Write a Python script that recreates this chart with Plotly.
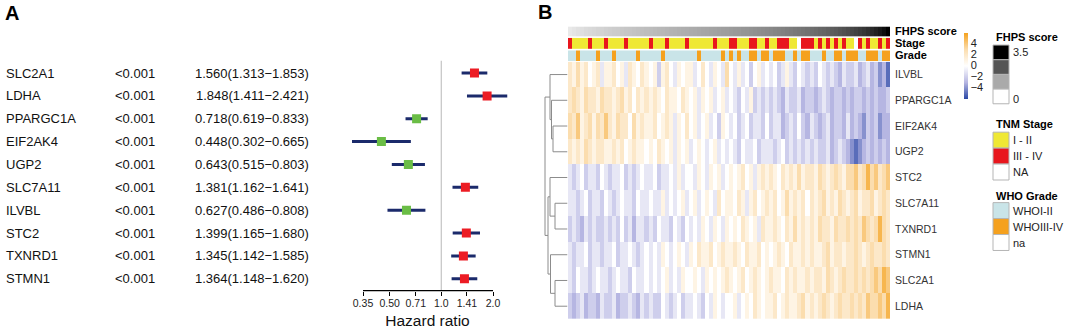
import math
import plotly.graph_objects as go

W, H = 1065, 329
FONT = "Arial, 'Liberation Sans', sans-serif"

# ---------------- Panel A data (forest plot) ----------------
FOREST_GENES = ["SLC2A1", "LDHA", "PPARGC1A", "EIF2AK4", "UGP2",
                "SLC7A11", "ILVBL", "STC2", "TXNRD1", "STMN1"]
PVALUES = ["<0.001"] * 10
HR = [1.560, 1.848, 0.718, 0.448, 0.643, 1.381, 0.627, 1.399, 1.345, 1.364]
HR_LOW = [1.313, 1.411, 0.619, 0.302, 0.515, 1.162, 0.486, 1.165, 1.142, 1.148]
HR_HIGH = [1.853, 2.421, 0.833, 0.665, 0.803, 1.641, 0.808, 1.680, 1.585, 1.620]
FOREST_TICKS = [0.35, 0.5, 0.71, 1.0, 1.41, 2.0]
FOREST_TICK_TEXT = ["0.35", "0.50", "0.71", "1.0", "1.41", "2.0"]

# ---------------- Panel B data (heatmap) ----------------
HEAT_GENES = ["ILVBL", "PPARGC1A", "EIF2AK4", "UGP2", "STC2",
              "SLC7A11", "TXNRD1", "STMN1", "SLC2A1", "LDHA"]

FHPS_SCORE = [0.30, 0.36, 0.41, 0.44, 0.49, 0.52, 0.55, 0.59, 0.61, 0.64,
              0.67, 0.70, 0.72, 0.75, 0.78, 0.80, 0.83, 0.85, 0.88, 0.90,
              0.92, 0.95, 0.97, 0.99, 1.02, 1.04, 1.06, 1.08, 1.11, 1.13,
              1.15, 1.17, 1.19, 1.22, 1.24, 1.26, 1.28, 1.30, 1.33, 1.35,
              1.37, 1.40, 1.42, 1.45, 1.47, 1.50, 1.53, 1.55, 1.58, 1.61,
              1.64, 1.67, 1.70, 1.73, 1.77, 1.80, 1.84, 1.87, 1.91, 1.95,
              1.99, 2.03, 2.08, 2.12, 2.17, 2.22, 2.27, 2.33, 2.39, 2.45,
              2.52, 2.59, 2.67, 2.75, 2.84, 2.94, 3.05, 3.17, 3.31, 3.50]

# 0 = NA, 1 = I - II, 2 = III - IV
STAGE = [2, 1, 1, 1, 1, 2, 1, 1, 1, 2,
         1, 1, 1, 1, 2, 1, 1, 1, 1, 1,
         2, 1, 1, 1, 2, 1, 1, 1, 1, 2,
         1, 1, 1, 1, 1, 1, 2, 1, 1, 1,
         2, 2, 1, 1, 1, 2, 2, 1, 1, 2,
         1, 1, 2, 2, 2, 1, 1, 0, 2, 2,
         2, 1, 2, 1, 2, 1, 2, 1, 2, 1,
         1, 0, 2, 1, 2, 1, 1, 2, 1, 2]

# 0 = na, 1 = WHOI-II, 2 = WHOIII-IV
GRADE = [1, 1, 2, 1, 1, 1, 1, 2, 1, 1,
         1, 2, 1, 1, 1, 1, 1, 2, 1, 1,
         1, 1, 1, 2, 1, 1, 1, 1, 1, 1,
         1, 1, 2, 1, 1, 1, 1, 1, 2, 1,
         2, 1, 2, 1, 1, 2, 2, 1, 2, 2,
         1, 2, 2, 2, 1, 1, 2, 1, 2, 2,
         1, 1, 1, 2, 1, 1, 2, 2, 1, 2,
         2, 2, 1, 1, 2, 2, 2, 1, 2, 2]

ILVBL = [2, 1, 3, 1, 2, 0, 1, 2, -1, 1,
         1, 2, 0, 1, -1, 2, 1, 0, 2, 1,
         0, 1, -2, 1, 2, 0, -1, 1, 0, 1,
         1, -1, 0, 2, 0, -1, 1, 0, -1, 3,
         0, -1, 1, -1, 0, -2, 0, 1, -1, 0,
         -1, 0, -2, -1, 1, -1, -2, 0, -1, -2,
         -1, -2, 0, -1, -2, -1, -2, -3, -1, -2,
         -2, -1, -3, -2, -1, -3, -2, -4, -3, -5]
PPARGC1A = [2, 3, 2, 1, 3, 2, 2, 1, 3, 2,
            2, 1, 2, 3, 1, 2, 0, 2, 1, 2,
            1, 2, 1, 0, 2, 1, 1, 0, 2, 1,
            0, 1, -1, 1, 0, 1, -1, 0, 1, -1,
            0, -1, -2, 0, -1, 1, -2, -1, -2, -1,
            -2, -1, -2, -3, -1, -2, -2, -1, -3, -2,
            -2, -3, -2, -1, -2, -3, -2, -2, -3, -2,
            -3, -2, -2, -3, -2, -3, -2, -3, -3, -2]
EIF2AK4 = [3, 2, 4, 1, 2, 3, 1, 3, 2, 4,
           2, 1, 3, 2, 2, 0, 3, 1, 2, 1,
           1, 2, 0, 1, 2, 1, -1, 1, 0, 2,
           0, 1, -1, 0, 1, -1, 0, -2, 1, 0,
           -1, 0, -2, -1, 0, -2, -1, -1, -2, 0,
           -2, -1, -1, -3, -2, -1, -2, 0, -2, -3,
           -1, -2, -3, -2, -1, -3, -2, -2, -3, -1,
           -3, -2, -3, -4, -2, -3, -2, -4, -3, -3]
UGP2 = [2, 1, 2, 1, 3, 2, 1, 2, 2, 1,
        1, 2, 1, 2, 0, 1, 2, 1, 1, 0,
        1, 0, 2, 1, 0, 1, -1, 1, 0, 1,
        -1, 0, 1, 0, -1, 0, 1, -1, 0, -1,
        0, -1, -2, 0, -1, -1, 0, -2, -1, -1,
        -1, -2, -1, 0, -2, -1, -2, -1, -2, -1,
        -2, -1, -2, -2, -1, -3, -2, -1, -2, -3,
        -4, -5, -4, -3, -2, -3, -2, -3, -2, -3]
STC2 = [-1, -2, -1, 0, -2, -1, -1, -2, 0, -1,
        -2, -1, -1, 0, -2, -1, -2, -1, 0, -1,
        -1, 0, -2, -1, -1, 0, -1, 1, -1, 0,
        0, -1, 1, 0, -1, 1, 0, 1, -1, 0,
        1, 0, 1, 2, 0, 1, -1, 1, 2, 1,
        2, 1, 0, 2, 1, 2, 1, 3, 1, 2,
        2, 1, 3, 2, 1, 2, 3, 2, 1, 3,
        3, 4, 2, 3, 5, 3, 4, 2, 3, 4]
SLC7A11 = [-1, -1, -2, -1, 0, -2, -1, -1, -2, 0,
           -1, -2, -1, 0, -1, -1, -2, 0, -1, -1,
           0, -1, -1, 1, -1, 0, -1, 0, 1, -1,
           0, 1, -1, 0, 1, 0, -1, 2, 0, 1,
           1, 0, 2, 1, -1, 1, 2, 0, 1, 2,
           1, 2, 0, 1, 3, 1, 2, 1, 2, 0,
           2, 1, 2, 3, 1, 2, 1, 3, 2, 1,
           2, 3, 1, 2, 2, 3, 1, 2, 3, 2]
TXNRD1 = [-2, -1, -2, -3, -1, -2, -1, -2, -2, -1,
          -2, -1, -2, 0, -2, -1, -3, -1, -1, -2,
          -1, -2, 0, -1, -1, -2, 0, -1, -2, 0,
          -1, 0, -1, 1, 0, -1, 1, 0, -1, 1,
          0, 1, 0, 2, 1, 0, 1, -1, 2, 1,
          1, 2, 1, 0, 2, 1, 3, 1, 2, 1,
          2, 1, 3, 2, 2, 1, 3, 2, 2, 3,
          2, 3, 2, 4, 3, 2, 3, 5, 3, 2]
STMN1 = [-1, -2, -1, -1, 0, -2, -1, -1, -2, -1,
         -1, 0, -2, -1, -1, 0, -1, -2, -1, 0,
         -1, 0, -1, 1, 0, -1, 0, 1, 0, -1,
         1, 0, 2, 1, 1, 2, 0, 1, 2, 1,
         1, 2, 1, 0, 2, 1, 1, 2, 0, 1,
         0, 1, 2, 1, 0, 2, 1, 1, 2, 1,
         2, 1, 1, 2, 3, 1, 2, 2, 1, 2,
         2, 3, 2, 1, 2, 3, 2, 2, 3, 2]
SLC2A1 = [-1, -2, 0, -1, -1, -2, -1, 0, -1, -1,
          -2, -1, 0, -1, -1, -2, 0, -1, -1, 0,
          -1, 0, -1, 0, 1, -1, 0, -1, 1, 0,
          0, 1, 0, -1, 1, 0, 1, 0, 1, 2,
          1, 0, 1, 2, 0, 1, 2, 1, 0, 1,
          2, 1, 1, 0, 2, 1, 2, 1, 1, 2,
          1, 2, 2, 1, 3, 2, 1, 2, 3, 2,
          2, 3, 2, 3, 2, 3, 4, 3, 5, 4]
LDHA = [-2, -3, -2, -1, -3, -2, -2, -3, -1, -2,
        -2, -1, -3, -2, -2, -1, -2, -3, -1, -2,
        -1, -2, -2, 0, -1, -2, -1, 0, -2, -1,
        -1, 0, -1, -2, 0, -1, 1, 0, -1, 0,
        0, 1, -1, 0, 1, 0, 2, 1, 0, 1,
        1, 2, 0, 1, 2, 1, 1, 2, 3, 1,
        2, 1, 2, 3, 2, 1, 2, 3, 2, 2,
        3, 2, 3, 2, 4, 3, 3, 4, 3, 5]
HEAT_ROWS = [ILVBL, PPARGC1A, EIF2AK4, UGP2, STC2, SLC7A11, TXNRD1, STMN1, SLC2A1, LDHA]

# gene clustering (leaf indices follow HEAT_GENES order): (left, right, height)
MERGES = [(2, 3, 14.5), (1, 10, 16.0), (0, 11, 17.5),
          (5, 6, 12.5), (4, 13, 17.5), (8, 9, 12.5), (7, 15, 17.0),
          (14, 16, 19.5), (12, 17, 22.5)]

COLORBAR_TICKS = [-4, -2, 0, 2, 4]
COLORBAR_TEXT = ["\u22124", "\u22122", "0", "2", "4"]
FHPS_LEG_COLORS = ["#000000", "#555555", "#AAAAAA", "#FFFFFF"]
FHPS_LEG_LABELS = ["3.5", "", "", "0"]
STAGE_LABELS = ["I - II", "III - IV", "NA"]
STAGE_COLORS = ["#EFE834", "#E8161D", "#FFFFFF"]
GRADE_LABELS = ["WHOI-II", "WHOIII-IV", "na"]
GRADE_COLORS = ["#C9E4E8", "#F5A11E", "#FFFFFF"]

RED, GREEN, NAVY = "#EC1C24", "#6ABD45", "#1B2A6B"
HEAT_SCALE = [[0, "#2A48A6"], [0.25, "#B6B6E2"], [0.5, "#FFFFFF"], [0.75, "#FBDDAE"], [1, "#F5A21E"]]


# ---------------- helpers (pixel -> paper) ----------------
def dx(a, b):
    return [a / W, b / W]


def dy(top, bottom):
    return [1 - bottom / H, 1 - top / H]


def px(a):
    return a / W


def py(t):
    return 1 - t / H


fig = go.Figure()

# ================= Panel A: forest plot =================
F_LEFT, F_RIGHT = 340, 515
T_LO_PX, T_HI_PX = 363, 493
ppl = (T_HI_PX - T_LO_PX) / (math.log10(FOREST_TICKS[-1]) - math.log10(FOREST_TICKS[0]))
x_lo = math.log10(FOREST_TICKS[0]) - (T_LO_PX - F_LEFT) / ppl
x_hi = math.log10(FOREST_TICKS[-1]) + (F_RIGHT - T_HI_PX) / ppl
ROW0, ROWSTEP = 73.6, 23.36
F_TOP, F_BOT = 60, 296
rows = list(range(len(FOREST_GENES)))

fig.add_trace(go.Scatter(
    x=HR, y=rows, mode="markers",
    marker=dict(symbol="square", size=9, color=[RED if h > 1 else GREEN for h in HR], line_width=0),
    error_x=dict(type="data", symmetric=False,
                 array=[hi - h for h, hi in zip(HR, HR_HIGH)],
                 arrayminus=[h - lo for h, lo in zip(HR, HR_LOW)],
                 thickness=3, width=0, color=NAVY),
    xaxis="x", yaxis="y", hoverinfo="skip"))

annotations = []
tf = dict(family=FONT, size=13, color="#111111")
for i, g in enumerate(FOREST_GENES):
    hr_txt = f"{HR[i]:.3f}({HR_LOW[i]:.3f}\u2212{HR_HIGH[i]:.3f})"
    annotations += [
        dict(x=px(4), y=i, xref="paper", yref="y", text=g, showarrow=False,
             xanchor="left", yanchor="middle", font=tf),
        dict(x=px(135), y=i, xref="paper", yref="y", text=PVALUES[i], showarrow=False,
             xanchor="center", yanchor="middle", font=tf),
        dict(x=px(311), y=i, xref="paper", yref="y", text=hr_txt, showarrow=False,
             xanchor="right", yanchor="middle", font=tf),
    ]
annotations += [
    dict(x=px(135), y=-1, xref="paper", yref="y", text="pvalue", showarrow=False,
         xanchor="center", yanchor="middle", font=tf),
    dict(x=px(311), y=-1, xref="paper", yref="y", text="Hazard ratio", showarrow=False,
         xanchor="right", yanchor="middle", font=tf),
    dict(x=px(3), y=py(12.5), xref="paper", yref="paper", text="<b>A</b>", showarrow=False,
         xanchor="left", yanchor="middle", font=dict(family=FONT, size=20, color="black")),
    dict(x=px(536), y=py(11.5), xref="paper", yref="paper", text="<b>B</b>", showarrow=False,
         xanchor="left", yanchor="middle", font=dict(family=FONT, size=20, color="black")),
]

shapes = [
    dict(type="line", xref="x", yref="paper", x0=1.0, x1=1.0, y0=py(F_BOT), y1=py(61),
         line=dict(color="#C8C8C8", width=1.3), layer="below"),
    dict(type="line", xref="x", yref="paper", x0=FOREST_TICKS[0], x1=FOREST_TICKS[-1],
         y0=py(F_BOT), y1=py(F_BOT), line=dict(color="black", width=1.3)),
]

# ================= Panel B: heatmap =================
N = len(FHPS_SCORE)
cols = list(range(N))
HM_L, HM_R = 568, 890

fig.add_trace(go.Heatmap(
    z=HEAT_ROWS, x=cols, y=list(range(len(HEAT_GENES))),
    colorscale=HEAT_SCALE, zmin=-6, zmax=6, xaxis="x2", yaxis="y2", hoverinfo="skip",
    colorbar=dict(x=px(964), xanchor="left", y=py(66), yanchor="middle",
                  len=66, lenmode="pixels", thickness=4, thicknessmode="pixels",
                  xpad=0, ypad=0, outlinewidth=0, ticks="",
                  tickvals=COLORBAR_TICKS, ticktext=COLORBAR_TEXT,
                  tickfont=dict(family=FONT, size=11, color="#222222"))))

fig.add_trace(go.Heatmap(
    z=[FHPS_SCORE], x=cols, y=[0], colorscale=[[0, "#FFFFFF"], [1, "#000000"]],
    zmin=0, zmax=3.5, showscale=False, xaxis="x2", yaxis="y3", hoverinfo="skip"))
fig.add_trace(go.Heatmap(
    z=[STAGE], x=cols, y=[0],
    colorscale=[[0, "#FFFFFF"], [0.25, "#FFFFFF"], [0.25, STAGE_COLORS[0]], [0.75, STAGE_COLORS[0]],
                [0.75, STAGE_COLORS[1]], [1, STAGE_COLORS[1]]],
    zmin=0, zmax=2, showscale=False, xaxis="x2", yaxis="y4", hoverinfo="skip"))
fig.add_trace(go.Heatmap(
    z=[GRADE], x=cols, y=[0],
    colorscale=[[0, "#FFFFFF"], [0.25, "#FFFFFF"], [0.25, GRADE_COLORS[0]], [0.75, GRADE_COLORS[0]],
                [0.75, GRADE_COLORS[1]], [1, GRADE_COLORS[1]]],
    zmin=0, zmax=2, showscale=False, xaxis="x2", yaxis="y5", hoverinfo="skip"))

# dendrogram built from the merge table
pos = {i: float(i) for i in range(len(HEAT_GENES))}
hgt = {i: 0.0 for i in range(len(HEAT_GENES))}
dxs, dys = [], []
for k, (a, b, h) in enumerate(MERGES):
    node = len(HEAT_GENES) + k
    dxs += [hgt[a], h, h, hgt[b], None]
    dys += [pos[a], pos[a], pos[b], pos[b], None]
    pos[node] = (pos[a] + pos[b]) / 2
    hgt[node] = h
fig.add_trace(go.Scatter(x=dxs, y=dys, mode="lines", line=dict(color="#8C8C8C", width=1),
                         xaxis="x3", yaxis="y2", hoverinfo="skip"))

# legends (right side)
BOX_L, BOX_R = 993, 1009
lab = dict(family=FONT, size=11, color="#222222")
bold = dict(family=FONT, size=11, color="black")


def legend_block(title, title_y, top, step, colors, labels, label_ys=None):
    annotations.append(dict(x=px(994), y=py(title_y), xref="paper", yref="paper", text=f"<b>{title}</b>",
                            showarrow=False, xanchor="left", yanchor="middle", font=bold))
    for j, c in enumerate(colors):
        t0, t1 = top + j * step, top + (j + 1) * step
        shapes.append(dict(type="rect", xref="paper", yref="paper", x0=px(BOX_L), x1=px(BOX_R),
                           y0=py(t1), y1=py(t0), fillcolor=c, line=dict(color="#B5B5B5", width=1)))
        if labels[j]:
            yy = (t0 + t1) / 2 if label_ys is None else label_ys[j]
            annotations.append(dict(x=px(1011), y=py(yy), xref="paper", yref="paper", text=labels[j],
                                    showarrow=False, xanchor="left", yanchor="middle", font=lab))


legend_block("FHPS score", 37, 45, 15, FHPS_LEG_COLORS, FHPS_LEG_LABELS, [52, 0, 0, 100])
legend_block("TNM Stage", 126, 134, 16.3, STAGE_COLORS, STAGE_LABELS)
legend_block("WHO Grade", 199, 206, 16.3, GRADE_COLORS, GRADE_LABELS)

hide = dict(visible=False, showgrid=False, zeroline=False)
rtick = dict(showgrid=False, zeroline=False, showline=False, ticks="", side="right",
             ticklabelstandoff=4)

fig.update_layout(
    width=W, height=H, margin=dict(l=0, r=0, t=0, b=0),
    paper_bgcolor="white", plot_bgcolor="rgba(0,0,0,0)", showlegend=False,
    font=dict(family=FONT, color="#222222"),
    xaxis=dict(domain=dx(F_LEFT, F_RIGHT), type="log", range=[x_lo, x_hi], anchor="y",
               tickvals=FOREST_TICKS, ticktext=FOREST_TICK_TEXT, ticks="outside", ticklen=4,
               tickwidth=1.2, tickcolor="black", showline=False, showgrid=False, zeroline=False,
               ticklabelstandoff=-1,
               tickfont=dict(family=FONT, size=10.5, color="#222222"),
               title=dict(text="Hazard ratio", font=dict(family=FONT, size=15.5, color="#111111"),
                          standoff=9)),
    yaxis=dict(domain=dy(F_TOP, F_BOT), range=[(F_BOT - ROW0) / ROWSTEP, (F_TOP - ROW0) / ROWSTEP],
               anchor="x", **hide),
    xaxis2=dict(domain=dx(HM_L, HM_R), range=[-0.5, N - 0.5], anchor="y2", **hide),
    yaxis2=dict(domain=dy(62, 325), range=[len(HEAT_GENES) - 0.5, -0.5], anchor="x2",
                tickvals=list(range(len(HEAT_GENES))), ticktext=HEAT_GENES,
                tickfont=dict(family=FONT, size=10.5, color="#333333"), **rtick),
    yaxis3=dict(domain=dy(26, 36.6), range=[-0.5, 0.5], anchor="x2", tickvals=[0],
                ticktext=["<b>FHPS score</b>"], tickfont=dict(family=FONT, size=11, color="black"), **rtick),
    yaxis4=dict(domain=dy(37.6, 49.2), range=[-0.5, 0.5], anchor="x2", tickvals=[0],
                ticktext=["<b>Stage</b>"], tickfont=dict(family=FONT, size=11, color="black"), **rtick),
    yaxis5=dict(domain=dy(50.4, 61.2), range=[-0.5, 0.5], anchor="x2", tickvals=[0],
                ticktext=["<b>Grade</b>"], tickfont=dict(family=FONT, size=11, color="black"), **rtick),
    xaxis3=dict(domain=dx(540, 567.5), range=[27.5, 0], anchor="y2", **hide),
    annotations=annotations, shapes=shapes,
)

fig.write_html("out.html", config={"displayModeBar": False},
               post_script="document.body.style.margin='0';")
